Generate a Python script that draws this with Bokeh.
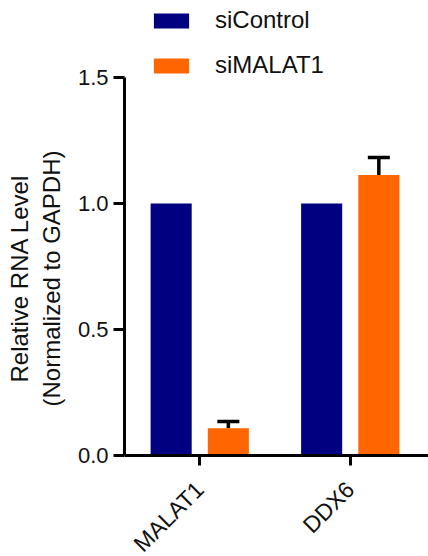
from bokeh.plotting import figure
from bokeh.models import (ColumnDataSource, Range1d, FixedTicker, Legend, LegendItem,
                          Whisker, TeeHead, NumeralTickFormatter)
from bokeh.embed import file_html
from bokeh.resources import INLINE
import math

categories = ["MALAT1", "DDX6"]
groups = ["siControl", "siMALAT1"]
si_control = [1.0, 1.0]
si_control_err = [0.0, 0.0]
si_malat1 = [0.108, 1.113]
si_malat1_err = [0.027, 0.070]
colors = ["#000080", "#FF6600"]
y_ticks = [0.0, 0.5, 1.0, 1.5]

FONT = "Liberation Sans"

# frame spans the full height; 0 sits at 455 px, 252 px per unit
p = figure(width=428, height=556, output_backend="svg", toolbar_location=None,
           x_range=Range1d(0, 2.02), y_range=Range1d(-0.4008, 1.8056),
           min_border_left=124, min_border_right=0, min_border_top=0, min_border_bottom=0)
p.outline_line_color = None
p.grid.visible = False
p.background_fill_color = "white"
p.border_fill_color = "white"

offset = 0.19
width = 0.273
renderers = []
for vals, errs, color, shift in [(si_control, si_control_err, colors[0], -offset),
                                 (si_malat1, si_malat1_err, colors[1], offset)]:
    xs = [i + 0.5 + shift for i in range(len(categories))]
    src = ColumnDataSource(dict(x=xs, top=vals, upper=[v + e for v, e in zip(vals, errs)]))
    r = p.vbar(x="x", top="top", bottom=0, width=width, source=src, fill_color=color, line_color=None)
    renderers.append(r)
    if any(e > 0 for e in errs):
        w = Whisker(source=src, base="x", lower="top", upper="upper", dimension="height",
                    line_width=3.5, line_color="black",
                    upper_head=TeeHead(size=22, line_width=3.5, line_color="black"),
                    lower_head=None)
        p.add_layout(w)

legend = Legend(items=[LegendItem(label=g, renderers=[r]) for g, r in zip(groups, renderers)],
                location=(25, 477), orientation="vertical",
                glyph_width=44, glyph_height=19, label_height=19, spacing=17,
                label_standoff=22, padding=0, margin=0,
                border_line_color=None, background_fill_alpha=0,
                label_text_font=FONT, label_text_font_size="24px", label_text_color="#111111",
                label_text_baseline="middle")
p.add_layout(legend, "center")

# x axis (placed at y = 0)
p.xaxis.fixed_location = 0
p.xaxis.ticker = FixedTicker(ticks=[i + 0.5 for i in range(len(categories))])
p.xaxis.major_label_overrides = {i + 0.5: c for i, c in enumerate(categories)}
p.xaxis.major_label_orientation = math.pi / 4
p.xaxis.minor_tick_line_color = None
p.xaxis.axis_line_width = 3
p.xaxis.major_tick_line_width = 3
p.xaxis.major_tick_out = 10
p.xaxis.major_tick_in = 0
p.xaxis.major_label_text_font = FONT
p.xaxis.major_label_text_font_size = "23px"
p.xaxis.major_label_text_color = "#111111"
p.xaxis.major_label_standoff = 20

# y axis
p.yaxis.ticker = FixedTicker(ticks=y_ticks)
p.yaxis.bounds = (0, 1.5)
p.yaxis.formatter = NumeralTickFormatter(format="0.0")
p.yaxis.minor_tick_line_color = None
p.yaxis.axis_line_width = 3
p.yaxis.major_tick_line_width = 3
p.yaxis.major_tick_out = 11
p.yaxis.major_tick_in = 0
p.yaxis.major_label_text_font = FONT
p.yaxis.major_label_text_font_size = "22px"
p.yaxis.major_label_text_color = "#111111"
p.yaxis.major_label_standoff = 5
p.yaxis.axis_label = "Relative RNA Level\n(Normalized to GAPDH)"
p.yaxis.axis_label_text_font = FONT
p.yaxis.axis_label_text_font_size = "24px"
p.yaxis.axis_label_text_font_style = "normal"
p.yaxis.axis_label_text_color = "#111111"
p.yaxis.axis_label_standoff = 10

open("out.html", "w").write(file_html(p, INLINE))
